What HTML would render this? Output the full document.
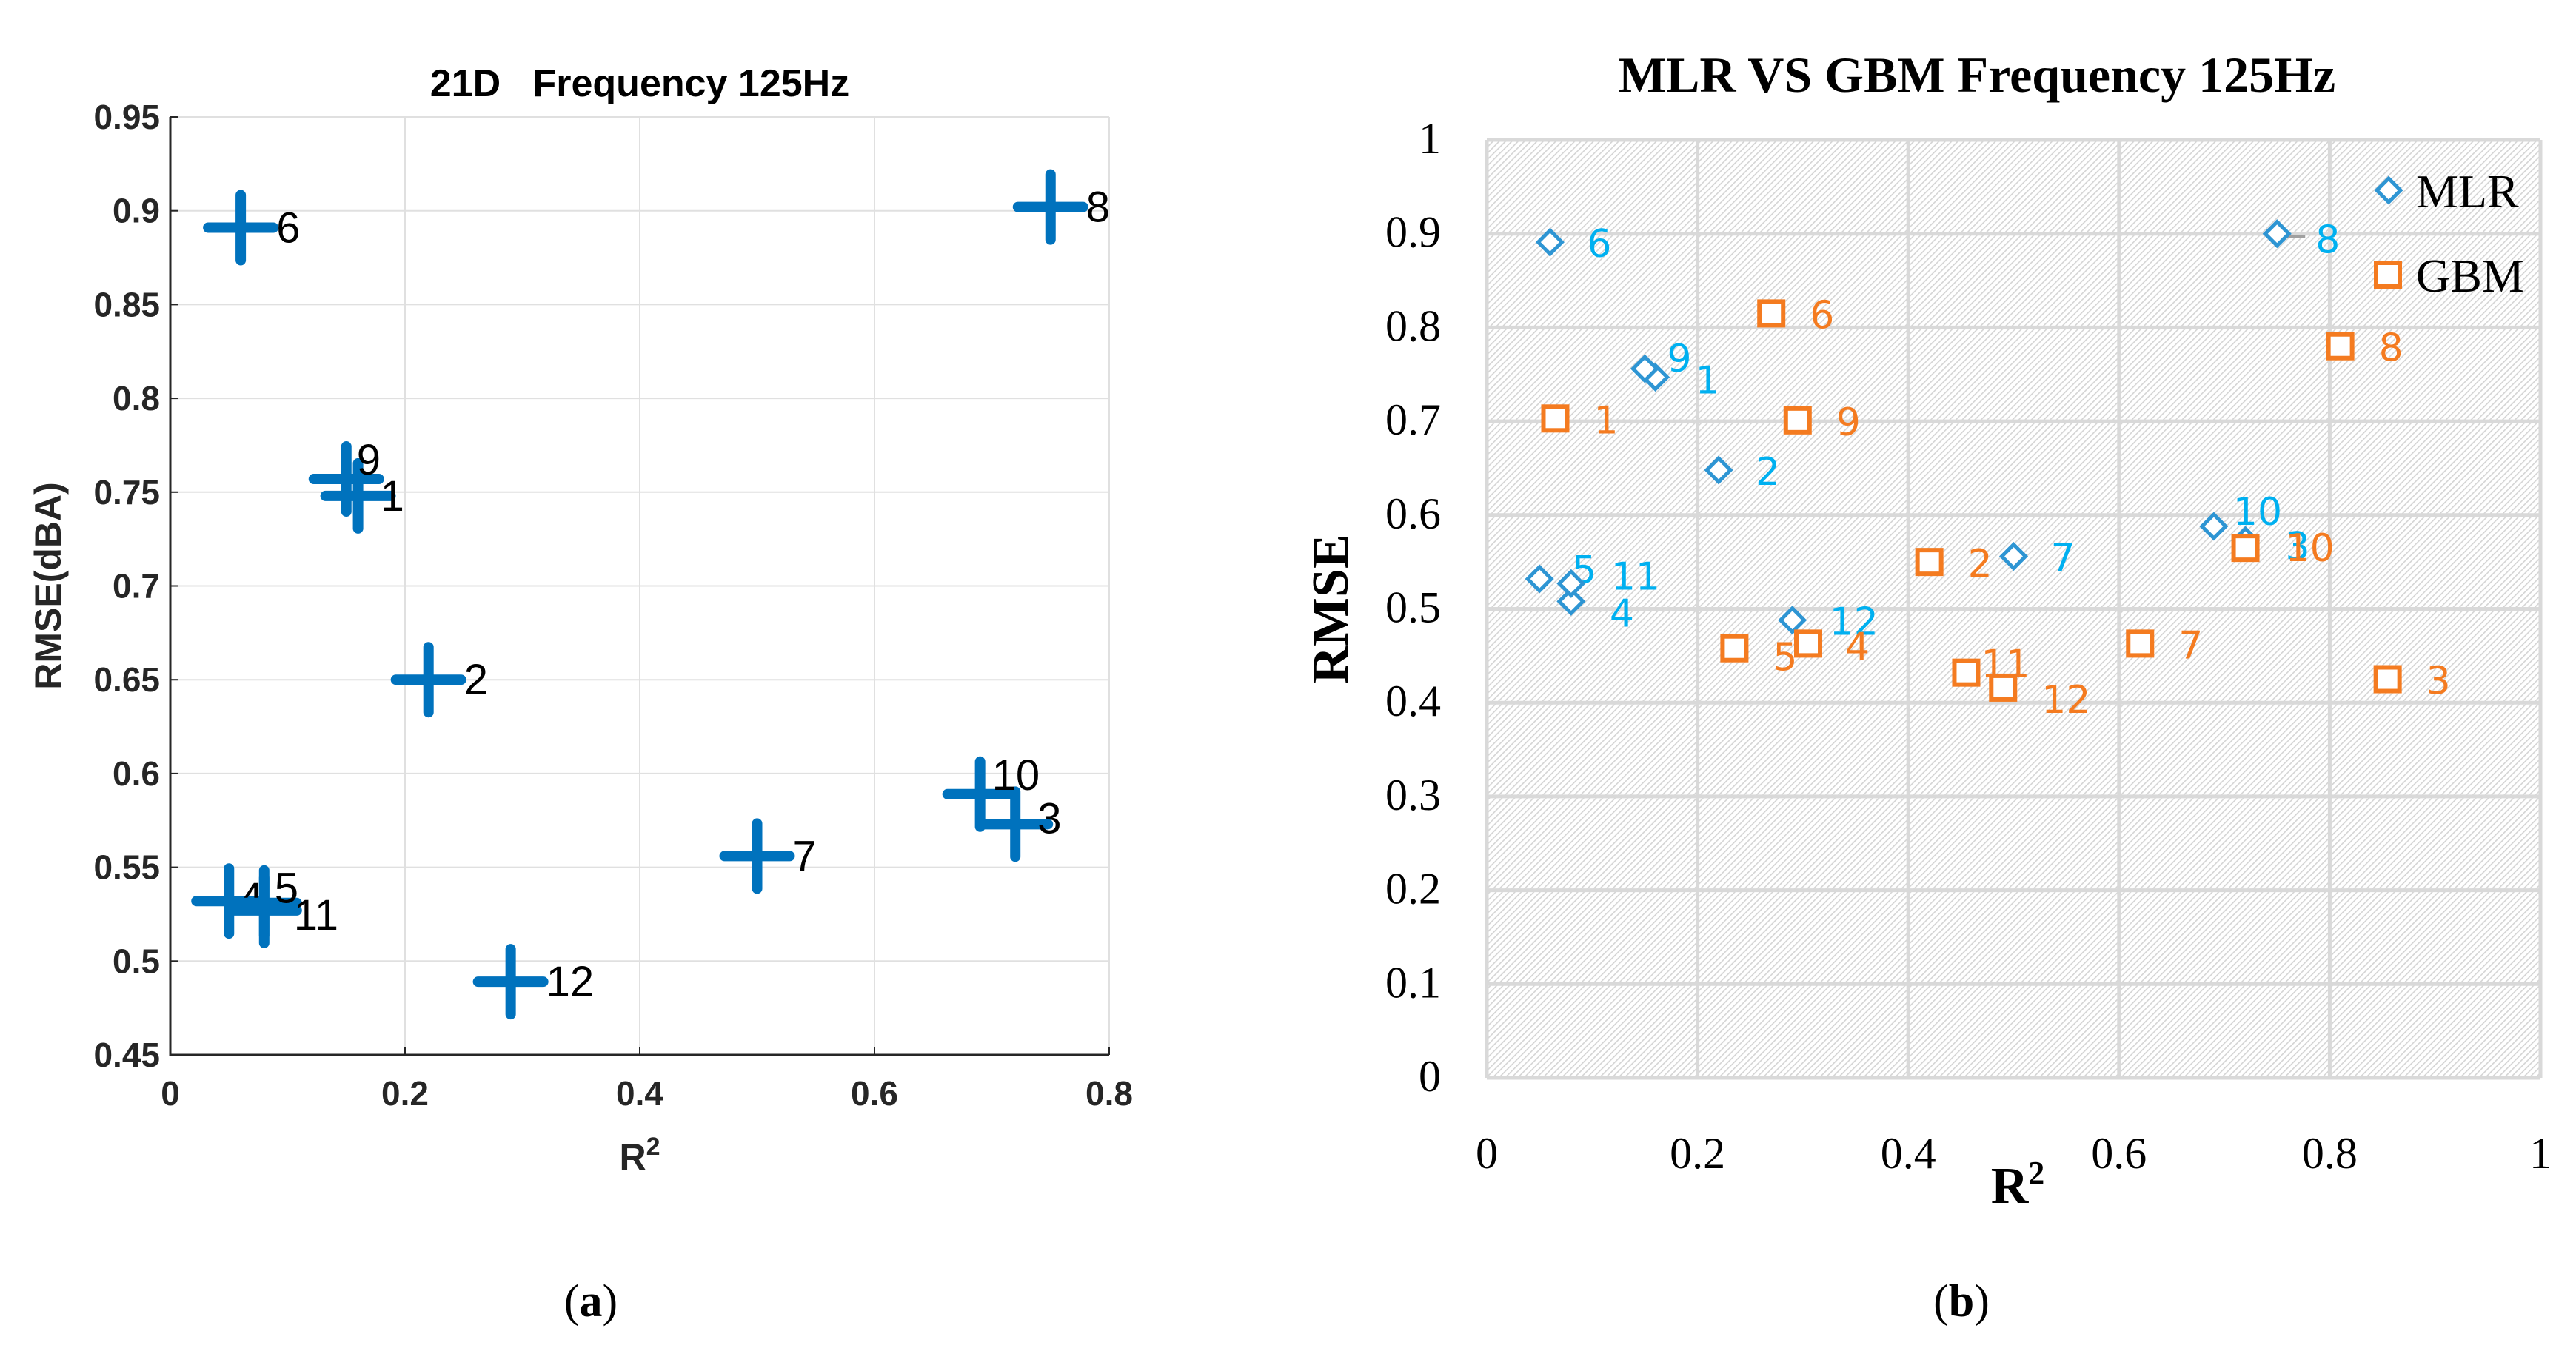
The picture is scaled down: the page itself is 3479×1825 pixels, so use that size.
<!DOCTYPE html>
<html><head><meta charset="utf-8">
<style>
html,body{margin:0;padding:0;background:#fff;}
svg{display:block;}
</style></head>
<body>
<svg id="root" width="3479" height="1825" viewBox="0 0 3479 1825" xmlns="http://www.w3.org/2000/svg">
<defs>
<pattern id="hatch" width="6" height="6" patternUnits="userSpaceOnUse" patternTransform="rotate(45)">
<rect width="6" height="6" fill="#ffffff"/>
<rect x="0" y="0" width="1.6" height="6" fill="#d4d4d4"/>
</pattern>
</defs>
<g id="chartA"></g>
<g id="chartB"></g>
<text x="798" y="1778" font-family="Liberation Serif, serif" font-size="62" text-anchor="middle">(<tspan font-weight="bold">a</tspan>)</text>
<text x="2649" y="1778" font-family="Liberation Serif, serif" font-size="62" text-anchor="middle">(<tspan font-weight="bold">b</tspan>)</text>
</svg>
<script>
// ---------- Chart A data ----------
const aLabels = ["1","2","3","4","5","6","7","8","9","10","11","12"];
const aR2 =   [0.16, 0.22, 0.72, 0.05, 0.08, 0.06, 0.50, 0.75, 0.15, 0.69, 0.08, 0.29];
const aRMSE = [0.748,0.650,0.573,0.532,0.531,0.891,0.556,0.902,0.757,0.589,0.527,0.489];
const aXTicks = ["0","0.2","0.4","0.6","0.8"];
const aYTicks = ["0.45","0.5","0.55","0.6","0.65","0.7","0.75","0.8","0.85","0.9","0.95"];

// ---------- Chart B data ----------
const bLabels = ["1","2","3","4","5","6","7","8","9","10","11","12"];
const mlrR2 =   [0.16, 0.22, 0.72, 0.08, 0.05, 0.06, 0.50, 0.75, 0.15, 0.69, 0.08, 0.29];
const mlrRMSE = [0.747,0.648,0.573,0.508,0.532,0.891,0.556,0.900,0.756,0.588,0.527,0.488];
const gbmR2 =   [0.065,0.42, 0.855,0.305,0.235,0.27, 0.62, 0.81, 0.295,0.72, 0.455,0.49];
const gbmRMSE = [0.703,0.550,0.425,0.463,0.458,0.815,0.463,0.780,0.701,0.565,0.432,0.416];
const bXTicks = ["0","0.2","0.4","0.6","0.8","1"];
const bYTicks = ["0","0.1","0.2","0.3","0.4","0.5","0.6","0.7","0.8","0.9","1"];

const NS = "http://www.w3.org/2000/svg";
function mk(parent, tag, attrs, text){
  const e = document.createElementNS(NS, tag);
  for (const k in attrs) e.setAttribute(k, attrs[k]);
  if (text !== undefined) e.textContent = text;
  parent.appendChild(e);
  return e;
}

// ---------- Chart A ----------
(function(){
  const g = document.getElementById('chartA');
  const L=230, R=1498, T=158, B=1425;
  const xmin=0,xmax=0.8,ymin=0.45,ymax=0.95;
  const sx = v => L + (v-xmin)/(xmax-xmin)*(R-L);
  const sy = v => B - (v-ymin)/(ymax-ymin)*(B-T);
  const font = "Liberation Sans, Arial, sans-serif";
  aXTicks.forEach(t=>{
    const v=parseFloat(t), x=sx(v);
    const gl = mk(g,'line',{x1:x,y1:T,x2:x,y2:B,stroke:'#e0e0e0','stroke-width':2});
    
    
    mk(g,'line',{x1:x,y1:B,x2:x,y2:B-10,stroke:'#262626','stroke-width':2});
    const tl = mk(g,'text',{x:x,y:B+68,'font-family':font,'font-size':46,'font-weight':'bold','fill':'#262626','text-anchor':'middle'},t);
    
    
  });
  aYTicks.forEach(t=>{
    const v=parseFloat(t), y=sy(v);
    const gl = mk(g,'line',{x1:L,y1:y,x2:R,y2:y,stroke:'#e0e0e0','stroke-width':2});
    
    
    mk(g,'line',{x1:L,y1:y,x2:L+10,y2:y,stroke:'#262626','stroke-width':2});
    const tl = mk(g,'text',{x:L-14,y:y+16,'font-family':font,'font-size':46,'font-weight':'bold','fill':'#262626','text-anchor':'end'},t);
    
    
  });
  const ax = mk(g,'path',{d:`M${L},${T} L${L},${B} L${R},${B}`,fill:'none',stroke:'#262626','stroke-width':3});
  
  
  const title = mk(g,'text',{x:(L+R)/2,y:130,'font-family':font,'font-size':52,'font-weight':'bold','text-anchor':'middle'},"21D\u00a0\u00a0\u00a0Frequency 125Hz");
  
  
  const xt = mk(g,'text',{x:(L+R)/2,y:1580,'font-family':font,'font-size':50,'font-weight':'bold','fill':'#262626','text-anchor':'middle'});
  
  
  mk(xt,'tspan',{},'R');
  mk(xt,'tspan',{dy:-20,'font-size':34},'2');
  const yt = mk(g,'text',{x:0,y:0,'font-family':font,'font-size':50,'font-weight':'bold','fill':'#262626','text-anchor':'middle',transform:`translate(82,${(T+B)/2}) rotate(-90)`},"RMSE(dBA)");
  
  
  const off = {"4":[14,16],"5":[14,0],"11":[40,26],"9":[14,-6],"1":[30,20],"10":[16,-6],"3":[30,12]};
  aLabels.forEach((lab,i)=>{
    const x=sx(aR2[i]), y=sy(aRMSE[i]);
    const m = mk(g,'path',{d:`M${x-44},${y} L${x+44},${y} M${x},${y-44} L${x},${y+44}`,stroke:'#0072BD','stroke-width':14,'stroke-linecap':'round',fill:'none'});
    
    
    const o = off[lab] || [48,20];
    const t = mk(g,'text',{x:x+o[0],y:y+o[1],'font-family':font,'font-size':58,'fill':'#000'},lab);
    
    
  });
})();

// ---------- Chart B ----------
(function(){
  const g = document.getElementById('chartB');
  const L=2008, R=3431, T=189, B=1456;
  const sx = v => L + v*(R-L);
  const sy = v => B - v*(B-T);
  const serif = "Liberation Serif, serif";
  const sans = "DejaVu Sans, Liberation Sans, sans-serif";
  const bg = mk(g,'rect',{x:L,y:T,width:R-L,height:B-T,fill:'url(#hatch)'});
  
  
  bXTicks.forEach(t=>{
    const x=sx(parseFloat(t));
    const gl = mk(g,'line',{x1:x,y1:T,x2:x,y2:B,stroke:'#d9d9d9','stroke-width':5});
    
    
    const tl = mk(g,'text',{x:x,y:1578,'font-family':serif,'font-size':60,'text-anchor':'middle'},t);
    
    
  });
  bYTicks.forEach(t=>{
    const y=sy(parseFloat(t));
    const gl = mk(g,'line',{x1:L,y1:y,x2:R,y2:y,stroke:'#d9d9d9','stroke-width':5});
    
    
    const tl = mk(g,'text',{x:1946,y:y+18,'font-family':serif,'font-size':60,'text-anchor':'end'},t);
    
    
  });
  const title = mk(g,'text',{x:2670,y:124,'font-family':serif,'font-size':68,'font-weight':'bold','text-anchor':'middle'},"MLR VS GBM Frequency 125Hz");
  
  
  const xt = mk(g,'text',{x:2725,y:1625,'font-family':serif,'font-size':70,'font-weight':'bold','text-anchor':'middle'});
  
  
  mk(xt,'tspan',{},'R');
  mk(xt,'tspan',{dy:-26,'font-size':44},'2');
  const yt = mk(g,'text',{x:0,y:0,'font-family':serif,'font-size':70,'font-weight':'bold','text-anchor':'middle',transform:`translate(1820,${(T+B)/2}) rotate(-90)`},"RMSE");
  
  
  const mOff = {"9":[30,4],"1":[54,22],"5":[44,6],"11":[54,8],"4":[52,34],"10":[26,-2],"3":[54,26],"8":[52,26]};
  mk(g,'line',{x1:sx(mlrR2[7])+2,y1:sy(mlrRMSE[7])+4,x2:sx(mlrR2[7])+38,y2:sy(mlrRMSE[7])+4,stroke:'#a0a0a0','stroke-width':4});
  bLabels.forEach((lab,i)=>{
    const x=sx(mlrR2[i]), y=sy(mlrRMSE[i]);
    const d = mk(g,'path',{d:`M${x},${y-16} L${x+16},${y} L${x},${y+16} L${x-16},${y} Z`,fill:'#fff',stroke:'#2E95D3','stroke-width':5});
    
    
    const o = mOff[lab] || [50,20];
    const t = mk(g,'text',{x:x+o[0],y:y+o[1],'font-family':sans,'font-size':52,'fill':'#00B0F0'},lab);
    
    
  });
  const gOff = {"5":[52,30],"4":[50,22],"11":[20,6],"12":[52,34],"10":[54,18]};
  bLabels.forEach((lab,i)=>{
    const x=sx(gbmR2[i]), y=sy(gbmRMSE[i]);
    const s = mk(g,'rect',{x:x-16,y:y-16,width:32,height:32,fill:'#fff',stroke:'#F47B20','stroke-width':6});
    
    
    const o = gOff[lab] || [52,20];
    const t = mk(g,'text',{x:x+o[0],y:y+o[1],'font-family':sans,'font-size':52,'fill':'#F47B20'},lab);
    
    
  });
  const lg = mk(g,'g',{});
  
  
  const e1 = mk(lg,'path',{d:'M3226,241 L3242,257 L3226,273 L3210,257 Z',fill:'#fff',stroke:'#2E95D3','stroke-width':5});
  
  
  mk(lg,'text',{x:3263,y:280,'font-family':serif,'font-size':64},'MLR');
  const e2 = mk(lg,'rect',{x:3209,y:355,width:32,height:32,fill:'#fff',stroke:'#F47B20','stroke-width':6});
  
  
  mk(lg,'text',{x:3263,y:394,'font-family':serif,'font-size':64},'GBM');
})();
</script>
</body></html>
